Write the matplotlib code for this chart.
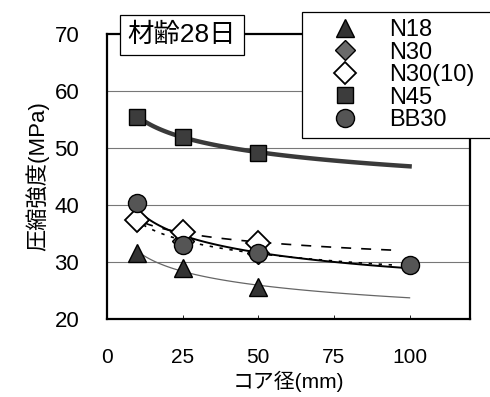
import numpy as np
import matplotlib.pyplot as plt
from matplotlib.lines import Line2D

plt.rcParams['font.family'] = ['Liberation Sans', 'Noto Sans CJK JP']

# core diameter (mm) and compressive strength (MPa)
x3 = [10, 25, 50]
x4 = [10, 25, 50, 100]
n18 = [31.6, 29.0, 25.6]
n30 = [37.3, 33.6, 31.6]
n30_10 = [37.3, 35.3, 33.4]
n45 = [55.5, 52.0, 49.2]
bb30 = [40.3, 33.0, 31.6, 29.5]

labels = ['N18', 'N30', 'N30(10)', 'N45', 'BB30']
xticks = [0, 25, 50, 75, 100]
yticks = [20, 30, 40, 50, 60, 70]


def power_fit(x, y, x0, x1):
    # trend line y = a * x^b as in the original spreadsheet chart
    b, lna = np.polyfit(np.log(x), np.log(y), 1)
    xx = np.linspace(x0, x1, 100)
    return xx, np.exp(lna) * xx ** b


fig = plt.figure(figsize=(4.9, 3.97), dpi=100)
ax = fig.add_axes([0.2184, 0.1965, 0.741, 0.718])

for v in yticks[1:-1]:
    ax.axhline(v, color='#777777', lw=0.8, zorder=0)

xx, yy = power_fit(x3, n45, 10, 100)
ax.plot(xx, yy, color='#3a3a3a', lw=3.2, zorder=2)
xx, yy = power_fit(x4, bb30, 10, 100)
ax.plot(xx, yy, color='black', lw=1.4, zorder=2)
xx, yy = power_fit(x3, n18, 12, 100)
ax.plot(xx, yy, color='#666666', lw=0.9, zorder=2)
xx, yy = power_fit(x3, n30_10, 12, 96)
ax.plot(xx, yy, color='black', lw=1.2, ls=(0, (6, 6)), zorder=2)
xx, yy = power_fit(x3, n30, 12, 96)
ax.plot(xx, yy, color='black', lw=1.2, ls=(0, (2, 4)), zorder=2)

ax.plot(x3, n18, ls='none', marker='^', ms=13, mfc='#333333', mec='black', zorder=3)
ax.plot(x3, n30, ls='none', marker='D', ms=11, mfc='#6a6a6a', mec='black', zorder=3)
ax.plot(x3, n30_10, ls='none', marker='D', ms=12, mfc='white', mec='black', mew=1.3, zorder=3)
ax.plot(x3, n45, ls='none', marker='s', ms=12, mfc='#3c3c3c', mec='black', zorder=4)
ax.plot(x4, bb30, ls='none', marker='o', ms=13, mfc='#555555', mec='black', zorder=4)

ax.set_xlim(0, 120)
ax.set_ylim(20, 70)
ax.set_xticks(xticks)
ax.set_yticks(yticks)
ax.tick_params(axis='x', direction='in', length=3, width=0.6, pad=21, labelsize=15)
ax.tick_params(axis='y', length=0, pad=20, labelsize=16)
for s in ax.spines.values():
    s.set_linewidth(1.6)

ax.set_xlabel('コア径(mm)', fontsize=15)
ax.xaxis.set_label_coords(0.5, -0.18)
ax.set_ylabel('圧縮強度(MPa)', fontsize=16, labelpad=4)

fig.text(182 / 490, 1 - 35 / 397, '材齢28日', fontsize=19, ha='center', va='center',
         bbox=dict(boxstyle='square,pad=0.3', fc='white', ec='black', lw=0.9))

handles = [
    Line2D([], [], ls='none', marker='^', ms=13, mfc='#333333', mec='black'),
    Line2D([], [], ls='none', marker='D', ms=10, mfc='#6a6a6a', mec='black'),
    Line2D([], [], ls='none', marker='D', ms=11, mfc='white', mec='black', mew=1.3),
    Line2D([], [], ls='none', marker='s', ms=11, mfc='#3c3c3c', mec='black'),
    Line2D([], [], ls='none', marker='o', ms=13, mfc='#555555', mec='black'),
]
leg = fig.legend(handles, labels, loc='upper left',
                 bbox_to_anchor=(302 / 490, 1 - 140 / 397, 200 / 490, 128 / 397),
                 mode='expand', borderaxespad=0, fontsize=17, frameon=True, fancybox=False,
                 edgecolor='black', framealpha=1, handlelength=3.0, handletextpad=0.4,
                 labelspacing=0.02, borderpad=0.3)
leg.get_frame().set_linewidth(0.9)

fig.savefig('out.png', dpi=100)
